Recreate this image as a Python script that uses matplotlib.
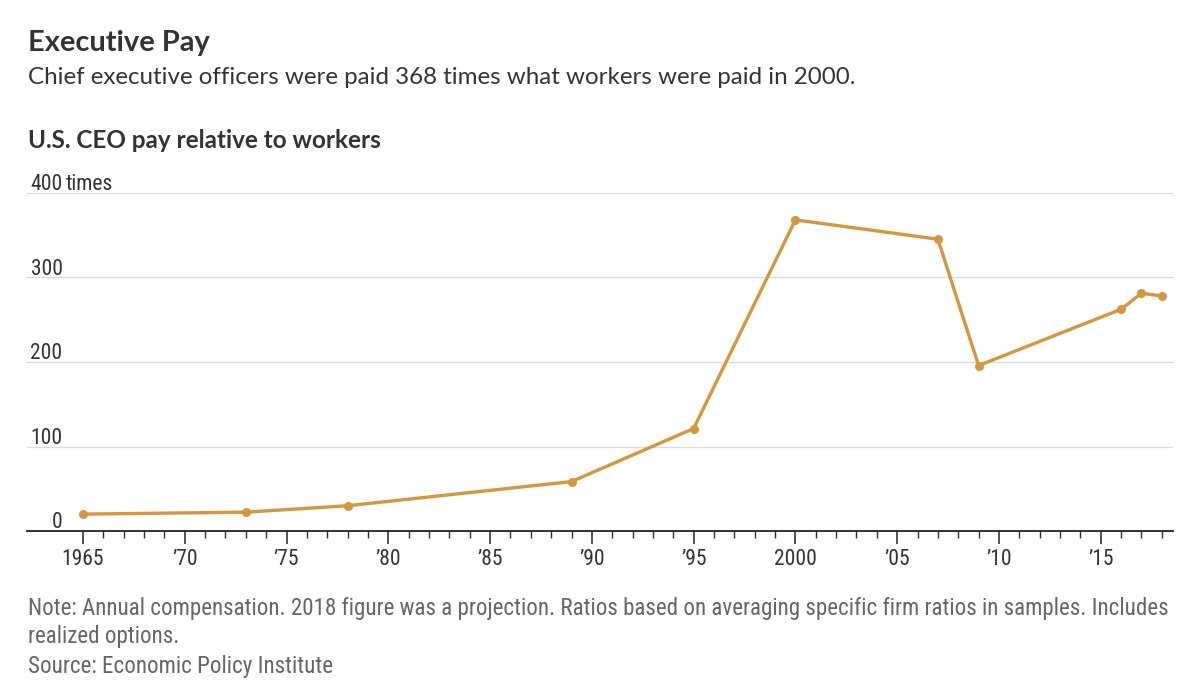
import matplotlib
matplotlib.use("Agg")
import matplotlib.pyplot as plt
from matplotlib.ticker import FixedLocator

years = [1965, 1973, 1978, 1989, 1995, 2000, 2007, 2009, 2016, 2017, 2018]
ratio = [20.0, 22.3, 29.9, 58.5, 121.3, 368.2, 345.3, 195.8, 262.4, 281.4, 278.1]

major_years = [1965, 1970, 1975, 1980, 1985, 1990, 1995, 2000, 2005, 2010, 2015]
major_labels = ["1965", "\u201970", "\u201975", "\u201980", "\u201985", "\u201990",
                "\u201995", "2000", "\u201905", "\u201910", "\u201915"]
y_ticks = [0, 100, 200, 300, 400]
y_labels = ["0", "100", "200", "300", "400"]

title = "Executive Pay"
subtitle = "Chief executive officers were paid 368 times what workers were paid in 2000."
chart_label = "U.S. CEO pay relative to workers"
note1 = "Note: Annual compensation. 2018 figure was a projection. Ratios based on averaging specific firm ratios in samples. Includes"
note2 = "realized options."
source = "Source: Economic Policy Institute"

narrow = ["Roboto Condensed", "Roboto", "DejaVu Sans"]
main_font = ["Lato", "DejaVu Sans"]

line_color = "#d4963f"
text_dark = "#333333"

fig = plt.figure(figsize=(12, 7), dpi=100)
ax = fig.add_axes([0.0225, 0.2414, 0.955, 0.4829])

ax.plot(years, ratio, color=line_color, lw=2.4, marker="o", markersize=6.5,
        markeredgewidth=0, solid_joinstyle="round", zorder=3, clip_on=False)

ax.set_xlim(1962.25, 2018.55)
ax.set_ylim(0, 400)

for s in ["top", "right", "left"]:
    ax.spines[s].set_visible(False)
ax.spines["bottom"].set_color("#222222")
ax.spines["bottom"].set_linewidth(1.3)

for yv in y_ticks[1:]:
    ax.axhline(yv, color="#dcdcdc", lw=1.0, zorder=1)

ax.set_yticks([])
ax.xaxis.set_major_locator(FixedLocator(major_years))
ax.set_xticklabels(major_labels, fontfamily=narrow, fontsize=15.5, color=text_dark)
ax.xaxis.set_minor_locator(FixedLocator(list(range(1965, 2019))))
ax.tick_params(axis="x", which="major", length=9, width=1.2, color="#333333", pad=4)
ax.tick_params(axis="x", which="minor", length=5, width=1.0, color="#333333")

for yv, lab in zip(y_ticks, y_labels):
    ax.text(0.031, yv + 3.5, lab, transform=ax.get_yaxis_transform(), ha="right",
            va="baseline", fontfamily=narrow, fontsize=15.5, color=text_dark)
ax.text(0.034, 403.5, "times", transform=ax.get_yaxis_transform(), ha="left",
        va="baseline", fontfamily=narrow, fontsize=15.5, color=text_dark)

fig.text(28/1200, 1 - 43/700, title, fontfamily=main_font, fontweight="bold",
         fontsize=20.9, color=text_dark, va="center", ha="left")
fig.text(28/1200, 1 - 78/700, subtitle, fontfamily=main_font, fontsize=17.4,
         color=text_dark, va="center", ha="left")
fig.text(28/1200, 1 - 140/700, chart_label, fontfamily=main_font, fontweight="bold",
         fontsize=17.5, color=text_dark, va="center", ha="left")

note_kw = dict(fontfamily=narrow, fontsize=16.55, color="#666666", va="center", ha="left")
fig.text(28/1200, 1 - 608/700, note1, **note_kw)
fig.text(28/1200, 1 - 636/700, note2, **note_kw)
fig.text(28/1200, 1 - 666/700, source, **note_kw)

fig.savefig("out.png", dpi=100, facecolor="white")
